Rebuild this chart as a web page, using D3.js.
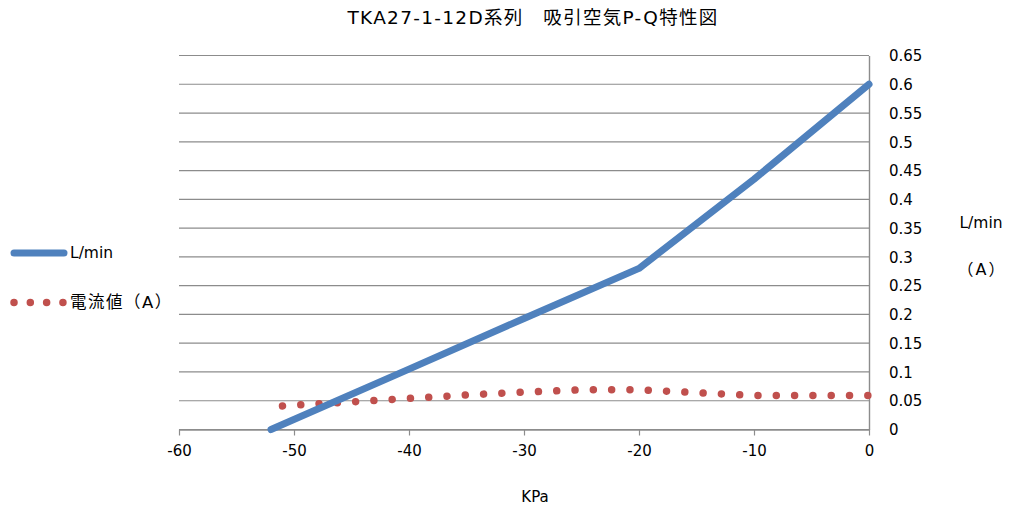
<!DOCTYPE html>
<html><head><meta charset="utf-8">
<script src="https://cdn.jsdelivr.net/npm/d3@7"></script>
<style>
body{margin:0;background:#fff;}
text{font-family:"DejaVu Sans","Noto Sans CJK JP",sans-serif;fill:#000;}
</style></head>
<body>
<svg id="c" width="1014" height="509"></svg>
<script>
const title = "TKA27-1-12D系列　吸引空気P-Q特性図";
const flowX = [-52, -40, -30, -20, -10, 0];
const flowY = [0, 0.105, 0.193, 0.28, 0.435, 0.6];
const currX = [-51, -45, -40, -35, -30, -25, -20, -15, -10, -5, 0];
const currY = [0.041, 0.048, 0.054, 0.060, 0.065, 0.069, 0.069, 0.064, 0.059, 0.059, 0.059];
const xTicks = [-60, -50, -40, -30, -20, -10, 0];
const yTicks = d3.range(0, 0.651, 0.05).map(v => +v.toFixed(2));
const seriesNames = ["L/min", "電流値（A）"];

const svg = d3.select("#c");
const x = d3.scaleLinear().domain([-60, 0]).range([179, 869]);
const y = d3.scaleLinear().domain([0, 0.65]).range([429.5, 55.5]);

// gridlines
svg.append("g").selectAll("line").data(yTicks).join("line")
  .attr("x1", 179).attr("x2", 869)
  .attr("y1", d => y(d)).attr("y2", d => y(d))
  .attr("stroke", "#8c8c8c").attr("stroke-width", 1.2);

// right axis
const ay = svg.append("g").attr("transform", "translate(869,0)")
  .call(d3.axisRight(y).tickValues(yTicks).tickSize(0).tickPadding(20)
    .tickFormat(d => String(+d.toFixed(2))));
ay.select(".domain").attr("stroke", "#8c8c8c").attr("stroke-width", 1.4);
ay.selectAll("text").style("font-size", "15px").attr("dy", "0.35em");

// bottom axis
const ax = svg.append("g").attr("transform", "translate(0,429.5)")
  .call(d3.axisBottom(x).tickValues(xTicks).tickSize(6).tickSizeOuter(0).tickPadding(10)
    .tickFormat(d => String(d)));
ax.select(".domain").attr("stroke", "#8c8c8c").attr("stroke-width", 1.4);
ax.selectAll(".tick line").attr("stroke", "#8c8c8c").attr("stroke-width", 1.2);
ax.selectAll("text").style("font-size", "15px");

// series
const flow = flowX.map((d, i) => [d, flowY[i]]);
const curr = currX.map((d, i) => [d, currY[i]]);
const line = d3.line().x(d => x(d[0])).y(d => y(d[1]));
svg.append("path").datum(curr).attr("d", line).attr("fill", "none")
  .attr("stroke", "#c0504d").attr("stroke-width", 7.5)
  .attr("stroke-linecap", "round").attr("stroke-dasharray", "0.01 18.3");
svg.append("path").datum(flow).attr("d", line).attr("fill", "none")
  .attr("stroke", "#4f81bd").attr("stroke-width", 7)
  .attr("stroke-linecap", "round").attr("stroke-linejoin", "round");

// title
svg.append("text").attr("x", 533).attr("y", 24).attr("text-anchor", "middle")
  .style("font-size", "18.5px").style("letter-spacing", "1.3px").text(title);
// axis titles
svg.append("text").attr("x", 535).attr("y", 502).attr("text-anchor", "middle")
  .style("font-size", "15px").text("KPa");
svg.append("text").attr("x", 981).attr("y", 228).attr("text-anchor", "middle")
  .style("font-size", "15.5px").text("L/min");
svg.append("text").attr("x", 982).attr("y", 275).attr("text-anchor", "middle")
  .style("font-size", "16px").style("letter-spacing", "2px").text("（A）");

// legend
const lg = svg.append("g");
lg.append("line").attr("x1", 14).attr("x2", 64).attr("y1", 253).attr("y2", 253)
  .attr("stroke", "#4f81bd").attr("stroke-width", 7).attr("stroke-linecap", "round");
lg.append("text").attr("x", 70).attr("y", 258).style("font-size", "15.5px").text(seriesNames[0]);
lg.append("line").attr("x1", 14).attr("x2", 63).attr("y1", 302.5).attr("y2", 302.5)
  .attr("stroke", "#c0504d").attr("stroke-width", 7.5)
  .attr("stroke-linecap", "round").attr("stroke-dasharray", "0.01 16.3");
lg.append("text").attr("x", 70).attr("y", 308).style("font-size", "16.5px")
  .style("letter-spacing", "1.5px").text(seriesNames[1]);
</script>
</body></html>
